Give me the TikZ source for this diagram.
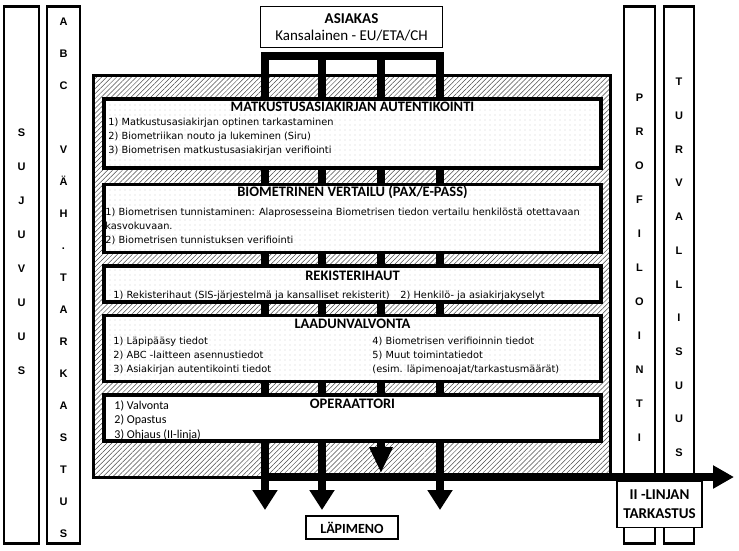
\documentclass[tikz,border=0pt]{standalone}
\usepackage{fontspec}
\setmainfont{DejaVu Sans}
\newfontfamily\titlefont{Carlito}
\newfontfamily\sidefamily{Liberation Sans}
\usetikzlibrary{positioning, arrows.meta, patterns.meta}
\newcommand{\sidefont}[1]{\sidefamily\bfseries\fontsize{11}{#1}\selectfont}
\tikzstyle{column} = [rectangle, draw=black, line width=2.5pt, fill=white, minimum height=537pt, inner sep=0pt]
\tikzstyle{sideletters} = [align=center, inner sep=0pt]
\tikzstyle{mainbox} = [rectangle, draw=black, line width=3pt, inner sep=0pt, preaction={fill=white}, pattern={Lines[angle=45,distance=3.5pt,line width=0.5pt]}, pattern color=black!70]
\tikzstyle{stagebox} = [rectangle, draw=black, line width=3.5pt, minimum width=497pt, inner sep=0pt, preaction={fill=white}, pattern={Dots[distance=5pt,radius=0.45pt]}, pattern color=black!50]
\tikzstyle{operbox} = [rectangle, draw=black, line width=3.5pt, minimum width=497pt, inner sep=0pt, fill=white]
\tikzstyle{labelbox} = [rectangle, draw=black, line width=1.2pt, fill=white, align=center, inner sep=0pt, font=\titlefont\fontsize{15}{17}\selectfont]
\tikzstyle{boxtitle} = [anchor=base, inner sep=0pt, font=\titlefont\bfseries\fontsize{14.5}{15}\selectfont]
\tikzstyle{itemlist} = [anchor=north west, align=left, inner sep=0pt, font=\fontsize{9.8}{14}\selectfont]
\tikzstyle{connbar} = [line width=8pt, line cap=rect]
\tikzstyle{flow} = [line width=8pt, -{Triangle[width=24pt,length=20pt]}]

\begin{document}
\begin{tikzpicture}[x=1pt, y=-1pt]
    \useasboundingbox (0,0) rectangle (739,550);

    % side columns
    \node (sujuvuus) [column, minimum width=35pt] at (21.5,275) {};
    \node (abc) [column, minimum width=33pt] at (63.5,275) {};
    \node [sideletters, font={\sidefont{34}}] at (sujuvuus.center |- 0,252) {S\\U\\J\\U\\V\\U\\U\\S};
    \node [sideletters, font={\sidefont{32}}] at (abc.center |- 0,278) {A\\B\\C\\~\\V\\Ä\\H\\.\\T\\A\\R\\K\\A\\S\\T\\U\\S};

    % main area
    \node (area) [mainbox, minimum width=517pt, minimum height=402pt] at (352,276) {};

    \node (asiakas) [labelbox, minimum width=182pt, minimum height=41pt] at (351.5,27) {\textbf{ASIAKAS}\\Kansalainen - EU/ETA/CH};

    % connectors
    \coordinate (in1) at (265,56);
    \coordinate (in2) at (322,56);
    \coordinate (in3) at (381,56);
    \coordinate (in4) at (440,56);
    \coordinate (out1) at (265,510);
    \coordinate (out2) at (322,510);
    \coordinate (out3) at (381,473);
    \coordinate (out4) at (440,510);
    \draw [connbar] (in1) -- (in4);
    \draw [flow] (in1) -- (out1);
    \draw [flow] (in2) -- (out2);
    \draw [flow, -{Triangle[width=22pt,length=26pt]}] (in3) -- (out3);
    \draw [flow] (in4) -- (out4);

    % stages
    \node (b1) [stagebox, minimum height=69pt] at (352.5,133.5) {};
    \node (b2) [stagebox, minimum height=68pt, below=13pt of b1] {};
    \node (b3) [stagebox, minimum height=36pt, below=10pt of b2] {};
    \node (b4) [stagebox, minimum height=66pt, below=10pt of b3] {};
    \node (b5) [operbox, minimum height=46pt, below=10pt of b4] {};

    \node [boxtitle] at ([yshift=-14pt]b1.north) {MATKUSTUSASIAKIRJAN AUTENTIKOINTI};
    \node [itemlist] at ([shift={(6,21)}]b1.north west) {1) Matkustusasiakirjan optinen tarkastaminen\\2) Biometriikan nouto ja lukeminen (Siru)\\3) Biometrisen matkustusasiakirjan verifiointi};

    \node [boxtitle] at ([yshift=-14pt]b2.north) {BIOMETRINEN VERTAILU (PAX/E-PASS)};
    \node [itemlist] at ([shift={(3,25)}]b2.north west) {1) Biometrisen tunnistaminen: Alaprosesseina Biometrisen tiedon vertailu henkilöstä otettavaan\\kasvokuvaan.\\2) Biometrisen tunnistuksen verifiointi};

    \node [boxtitle] at ([yshift=-16pt]b3.north) {REKISTERIHAUT};
    \node [itemlist] at ([shift={(11,27)}]b3.north west) {1) Rekisterihaut (SIS-järjestelmä ja kansalliset rekisterit)};
    \node [itemlist] at ([shift={(298,27)}]b3.north west) {2) Henkilö- ja asiakirjakyselyt};

    \node [boxtitle] at ([yshift=-15pt]b4.north) {LAADUNVALVONTA};
    \node [itemlist] at ([shift={(11,23)}]b4.north west) {1) Läpipääsy tiedot\\2) ABC -laitteen asennustiedot\\3) Asiakirjan autentikointi tiedot};
    \node [itemlist] at ([shift={(270,23)}]b4.north west) {4) Biometrisen verifioinnin tiedot\\5) Muut toimintatiedot\\(esim. läpimenoajat/tarkastusmäärät)};

    \node [boxtitle] at ([yshift=-15pt]b5.north) {OPERAATTORI};
    \node [itemlist, font=\titlefont\fontsize{12}{14.5}\selectfont] at ([shift={(12,7)}]b5.north west) {1) Valvonta\\2) Opastus\\3) Ohjaus (II-linja)};

    \node (lapimeno) [labelbox, minimum width=92pt, minimum height=23pt, font=\titlefont\fontsize{14}{17}\selectfont] at (352,527.5) {\textbf{LÄPIMENO}};

    % right columns
    \node (profilointi) [column, minimum width=31pt] at (639.5,275) {};
    \node (turvallisuus) [column, minimum width=30pt] at (679,275) {};
    \node [sideletters, font={\sidefont{34}}] at (profilointi.center |- 0,268) {P\\R\\O\\F\\I\\L\\O\\I\\N\\T\\I};
    \node [sideletters, font={\sidefont{33.7}}] at (turvallisuus.center |- 0,267.5) {T\\U\\R\\V\\A\\L\\L\\I\\S\\U\\U\\S};

    \node (linja2) [labelbox, minimum width=85pt, minimum height=46pt, font=\titlefont\fontsize{15}{19}\selectfont] at (659.5,504.5) {\textbf{II -LINJAN}\\\textbf{TARKASTUS}};

    \coordinate (hstart) at (261,477);
    \coordinate (hend) at (734,477);
    \draw [flow, -{Triangle[width=22pt,length=21pt]}] (hstart) -- (hend);
\end{tikzpicture}
\end{document}
